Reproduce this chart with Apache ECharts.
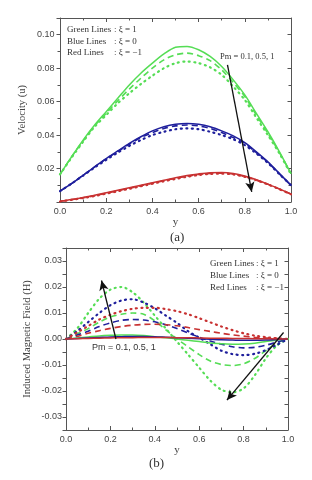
<!DOCTYPE html>
<html><head><meta charset="utf-8">
<script src="https://cdn.jsdelivr.net/npm/echarts@6/dist/echarts.min.js"></script>
<style>html,body{margin:0;padding:0;background:#fff}#c{width:312px;height:480px}</style>
</head><body><div id="c"></div>
<script>
// ---- Data: panel (a) velocity u vs y ----
const yA = [0, 0.05, 0.1, 0.15, 0.2, 0.25, 0.3, 0.35, 0.4, 0.45, 0.5, 0.55, 0.6, 0.65, 0.7, 0.75, 0.8, 0.85, 0.9, 0.95, 1.0];
const uGreenPm01 = [0.0165, 0.027, 0.037, 0.046, 0.054, 0.062, 0.070, 0.077, 0.083, 0.0885, 0.0925, 0.093, 0.091, 0.087, 0.081, 0.073, 0.064, 0.053, 0.042, 0.030, 0.017];
const uGreenPm05 = [0.0165, 0.027, 0.0365, 0.0455, 0.053, 0.0605, 0.0675, 0.074, 0.080, 0.085, 0.088, 0.089, 0.0875, 0.0845, 0.079, 0.0715, 0.063, 0.052, 0.041, 0.0295, 0.017];
const uGreenPm1  = [0.0165, 0.0265, 0.036, 0.045, 0.052, 0.059, 0.065, 0.0705, 0.0755, 0.080, 0.083, 0.084, 0.083, 0.0805, 0.076, 0.069, 0.061, 0.0505, 0.040, 0.029, 0.0165];
const uBluePm01  = [0.0065, 0.011, 0.016, 0.021, 0.026, 0.0305, 0.035, 0.039, 0.0425, 0.045, 0.0465, 0.047, 0.0465, 0.045, 0.0425, 0.0395, 0.0355, 0.030, 0.024, 0.017, 0.010];
const uBluePm05  = [0.0065, 0.011, 0.016, 0.021, 0.0258, 0.0302, 0.0345, 0.0385, 0.0415, 0.044, 0.0455, 0.046, 0.0455, 0.044, 0.0415, 0.0385, 0.035, 0.0295, 0.0237, 0.0168, 0.010];
const uBluePm1   = [0.0065, 0.011, 0.0158, 0.0206, 0.0252, 0.0295, 0.0335, 0.037, 0.040, 0.042, 0.0435, 0.044, 0.0435, 0.042, 0.040, 0.0375, 0.034, 0.029, 0.0233, 0.0166, 0.010];
const uRedPm01   = [0.0005, 0.0015, 0.0027, 0.004, 0.0055, 0.007, 0.0085, 0.010, 0.0115, 0.013, 0.0145, 0.0158, 0.0168, 0.0175, 0.0176, 0.017, 0.0155, 0.0133, 0.0107, 0.0078, 0.0048];
const uRedPm05   = [0.0004, 0.0014, 0.0025, 0.0038, 0.0052, 0.0067, 0.0082, 0.0097, 0.0112, 0.0127, 0.0141, 0.0154, 0.0164, 0.0171, 0.0172, 0.0167, 0.0152, 0.0131, 0.0106, 0.0077, 0.0047];
const uRedPm1    = [0.0003, 0.0013, 0.0024, 0.0036, 0.005, 0.0064, 0.0079, 0.0094, 0.0109, 0.0124, 0.0138, 0.0151, 0.0161, 0.0168, 0.0169, 0.0165, 0.015, 0.013, 0.0105, 0.0076, 0.0046];
const ticksA_y = [0.02, 0.04, 0.06, 0.08, 0.10];

// ---- Data: panel (b) induced magnetic field H vs y ----
const yB = [0, 0.05, 0.1, 0.15, 0.2, 0.25, 0.3, 0.35, 0.4, 0.45, 0.5, 0.55, 0.6, 0.65, 0.7, 0.75, 0.8, 0.85, 0.9, 0.95, 1.0];
const hGreenPm01 = [0, 0.0004, 0.0008, 0.0012, 0.0014, 0.0015, 0.0015, 0.0013, 0.0009, 0.0005, 0, -0.0005, -0.001, -0.0015, -0.0018, -0.002, -0.0019, -0.0016, -0.001, -0.0004, 0];
const hGreenPm05 = [0, 0.002, 0.004, 0.0065, 0.0085, 0.0095, 0.010, 0.0095, 0.007, 0.0035, 0, -0.003, -0.006, -0.0085, -0.0098, -0.0102, -0.0095, -0.0075, -0.0045, -0.0015, 0];
const hGreenPm1  = [0, 0.004, 0.010, 0.0155, 0.019, 0.020, 0.018, 0.014, 0.009, 0.004, -0.001, -0.006, -0.011, -0.016, -0.0195, -0.0205, -0.019, -0.014, -0.0075, -0.0025, 0];
const hBluePm01  = [0, 0.0002, 0.0004, 0.0006, 0.0008, 0.0009, 0.001, 0.001, 0.0009, 0.0007, 0.0005, 0.0003, 0.0001, -0.0001, -0.0003, -0.0004, -0.0005, -0.0005, -0.0004, -0.0002, 0];
const hBluePm05  = [0, 0.0015, 0.003, 0.0048, 0.0062, 0.0072, 0.0075, 0.0073, 0.0066, 0.0055, 0.004, 0.0023, 0.0007, -0.0008, -0.002, -0.003, -0.0034, -0.0032, -0.0024, -0.0012, 0];
const hBluePm1   = [0, 0.003, 0.0065, 0.010, 0.013, 0.0148, 0.0153, 0.014, 0.0118, 0.009, 0.0062, 0.003, 0.0005, -0.002, -0.0045, -0.0058, -0.0062, -0.0057, -0.0043, -0.0022, 0];
const hRedPm01   = [0, 0.0001, 0.0002, 0.0003, 0.0004, 0.0005, 0.0005, 0.0006, 0.0006, 0.0006, 0.0005, 0.0005, 0.0004, 0.0003, 0.0003, 0.0002, 0.0002, 0.0001, 0.0001, 0, 0];
const hRedPm05   = [0, 0.001, 0.0022, 0.0032, 0.0041, 0.0048, 0.0053, 0.0056, 0.0057, 0.0055, 0.0051, 0.0044, 0.0036, 0.0029, 0.0022, 0.0016, 0.0011, 0.0007, 0.0004, 0.0002, 0];
const hRedPm1    = [0, 0.0025, 0.005, 0.0075, 0.0093, 0.0107, 0.0116, 0.012, 0.012, 0.0115, 0.0107, 0.0095, 0.008, 0.0064, 0.0048, 0.0034, 0.0022, 0.0013, 0.0007, 0.0003, 0];

// ---- annotations (data coordinates) ----
const arrowA  = [[0.725, 0.082], [0.83, 0.006]];
const arrowB1 = [[0.225, 0.0], [0.16, 0.0225]];
const arrowB2 = [[0.98, 0.0025], [0.725, -0.0235]];

const GREEN = '#55dd55', BLUE = '#1f1f9c', RED = '#c83232';
const styles = {
  solid: {type: 'solid', width: 1.5},
  dashed: {type: [6, 4], width: 1.6},
  dotted: {type: [1, 4.5], width: 2.2, cap: 'round'}
};
function zip(xs, ys) { return xs.map((x, i) => [x, ys[i]]); }
function mk(xs, ys, color, st, xi, yi) {
  return {type: 'line', xAxisIndex: xi, yAxisIndex: yi, data: zip(xs, ys), smooth: 0.3,
    symbol: 'none', silent: true,
    lineStyle: Object.assign({color: color}, styles[st])};
}
function arrowSeries(a, xi, yi) {
  return {type: 'line', xAxisIndex: xi, yAxisIndex: yi, data: [], silent: true,
    markLine: {silent: true, symbol: ['none', 'arrow'], symbolSize: [7, 10], label: {show: false},
      lineStyle: {color: '#111', width: 1.3, type: 'solid'},
      data: [[{coord: a[0]}, {coord: a[1]}]]}};
}
const frameLine = {show: true, lineStyle: {color: '#555', width: 1}};
function xAx(gi, pos, showLbl, name) {
  return {type: 'value', gridIndex: gi, position: pos, min: 0, max: 1, interval: 0.2,
    axisLine: Object.assign({onZero: false}, frameLine),
    axisTick: {show: true, inside: true, length: 4, lineStyle: {color: '#555'}},
    minorTick: {show: true, splitNumber: 2, length: 2.5, lineStyle: {color: '#555'}},
    splitLine: {show: false},
    axisLabel: {show: showLbl, margin: 5, color: '#444', fontSize: 9, fontFamily: 'Liberation Sans',
      formatter: v => v.toFixed(1)},
    name: name || '', nameLocation: 'middle', nameGap: 15,
    nameTextStyle: {fontFamily: 'Liberation Serif', fontSize: 11, color: '#444'}};
}
function yAx(gi, pos, showLbl, min, max, interval, minor, fmt, name, gap, margin) {
  const outward = pos === 'left';
  return {type: 'value', gridIndex: gi, position: pos, min: min, max: max, interval: interval,
    axisLine: Object.assign({onZero: false}, frameLine),
    axisTick: {show: true, inside: !outward, length: 3.5, lineStyle: {color: '#555'}},
    minorTick: {show: minor, splitNumber: 2, length: 2.5, lineStyle: {color: '#555'}},
    splitLine: {show: false},
    axisLabel: {show: showLbl, margin: margin || 5, color: '#444', fontSize: 9, fontFamily: 'Liberation Sans', formatter: fmt},
    name: name || '', nameLocation: 'middle', nameGap: gap || 30, nameMoveOverlap: false,
    nameTextStyle: {fontFamily: 'Liberation Serif', fontSize: 10.5, color: '#444'}};
}
const fmtA = v => (ticksA_y.some(t => Math.abs(t - v) < 1e-9) ? v.toFixed(2) : '');
const fmtB = v => {
  const k = v / 0.01;
  if (Math.abs(k - Math.round(k)) > 1e-6 || Math.abs(v) > 0.0301) return '';
  return Math.abs(v) < 1e-9 ? '0.00' : v.toFixed(2);
};

const series = [
  mk(yA, uGreenPm01, GREEN, 'solid', 0, 0), mk(yA, uGreenPm05, GREEN, 'dashed', 0, 0), mk(yA, uGreenPm1, GREEN, 'dotted', 0, 0),
  mk(yA, uBluePm01, BLUE, 'solid', 0, 0), mk(yA, uBluePm05, BLUE, 'dashed', 0, 0), mk(yA, uBluePm1, BLUE, 'dotted', 0, 0),
  mk(yA, uRedPm01, RED, 'solid', 0, 0), mk(yA, uRedPm05, RED, 'dashed', 0, 0), mk(yA, uRedPm1, RED, 'dotted', 0, 0),
  mk(yB, hGreenPm1, GREEN, 'dotted', 2, 2), mk(yB, hGreenPm05, GREEN, 'dashed', 2, 2),
  mk(yB, hBluePm1, BLUE, 'dotted', 2, 2), mk(yB, hBluePm05, BLUE, 'dashed', 2, 2),
  mk(yB, hRedPm1, RED, 'dotted', 2, 2), mk(yB, hRedPm05, RED, 'dashed', 2, 2),
  mk(yB, hGreenPm01, GREEN, 'solid', 2, 2), mk(yB, hBluePm01, BLUE, 'solid', 2, 2), mk(yB, hRedPm01, RED, 'solid', 2, 2),
  arrowSeries(arrowA, 0, 0), arrowSeries(arrowB1, 2, 2), arrowSeries(arrowB2, 2, 2)
];

const serif = 'Liberation Serif';
function txt(x, y, s, size, fam, align) {
  return {type: 'text', left: x, top: y, silent: true,
    style: {text: s, fill: '#333', font: size + 'px "' + fam + '"', textAlign: align || 'left'}};
}
const graphic = [
  txt(67, 25, 'Green Lines', 9, serif), txt(114, 25, ': ξ = 1', 9, serif),
  txt(67, 37, 'Blue Lines', 9, serif), txt(114, 37, ': ξ = 0', 9, serif),
  txt(67, 48, 'Red Lines', 9, serif), txt(114, 48, ': ξ = −1', 9, serif),
  txt(220, 52, 'Pm = 0.1, 0.5, 1', 8.5, serif),
  txt(170, 231, '(a)', 13, serif),
  txt(210, 259, 'Green Lines', 9, serif), txt(256, 259, ': ξ = 1', 9, serif),
  txt(210, 271, 'Blue Lines', 9, serif), txt(256, 271, ': ξ = 0', 9, serif),
  txt(210, 283, 'Red Lines', 9, serif), txt(256, 283, ': ξ = −1', 9, serif),
  txt(92, 343, 'Pm = 0.1, 0.5, 1', 9, 'Liberation Sans'),
  txt(149, 457, '(b)', 13, serif)
];

const chart = echarts.init(document.getElementById('c'), null, {renderer: 'canvas'});
chart.setOption({
  animation: false,
  backgroundColor: '#fff',
  grid: [
    {left: 60, top: 18, width: 231, height: 184},
    {left: 66, top: 248, width: 222, height: 182}
  ],
  xAxis: [xAx(0, 'bottom', true, 'y'), xAx(0, 'top', false), xAx(1, 'bottom', true, 'y'), xAx(1, 'top', false)],
  yAxis: [
    yAx(0, 'left', true, 0, 0.11, 0.02, true, fmtA, 'Velocity (u)', 32, 5.5),
    yAx(0, 'right', false, 0, 0.11, 0.02, true, fmtA),
    yAx(1, 'left', true, -0.035, 0.035, 0.005, false, fmtB, 'Induced Magnetic Field (H)', 33, 4),
    yAx(1, 'right', false, -0.035, 0.035, 0.005, false, fmtB)
  ],
  series: series,
  graphic: graphic
});
</script></body></html>
